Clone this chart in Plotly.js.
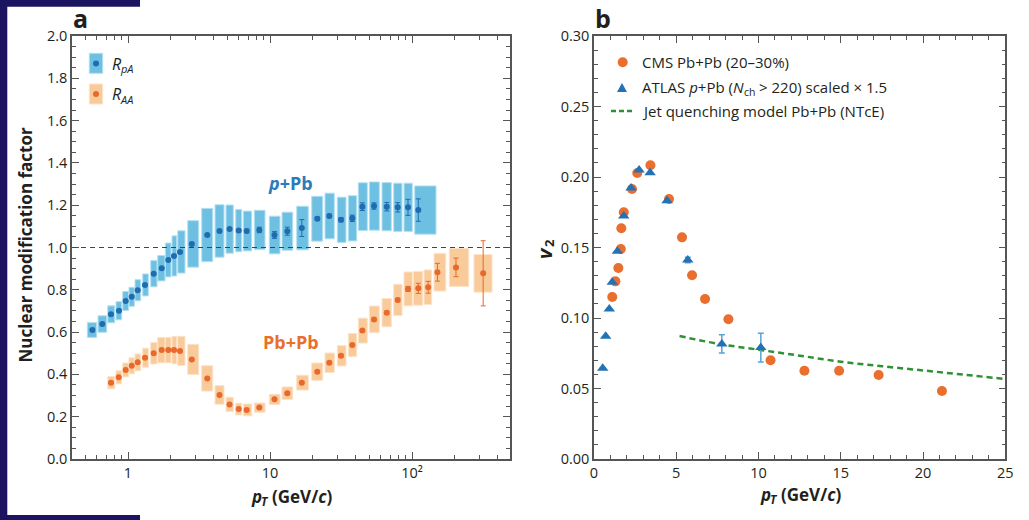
<!DOCTYPE html>
<html>
<head>
<meta charset="utf-8">
<script src="https://cdn.plot.ly/plotly-3.0.1.min.js"></script>
<style>
html,body{margin:0;padding:0;background:#fff;}
#chart{width:1029px;height:520px;}
</style>
</head>
<body>
<div id="chart"></div>
<script>
// ---------------- Data: panel a ----------------
const rpaPt = [0.561, 0.659, 0.759, 0.864, 0.963, 1.062, 1.170, 1.317, 1.517, 1.727, 1.922, 2.109, 2.323, 2.813, 3.618, 4.41, 5.19, 6.02, 6.85, 8.41, 10.76, 13.24, 16.75, 21.53, 26.16, 31.6, 38.0, 44.7, 54.0, 66.4, 79.3, 93.7, 110.7];
const rpaVal = [0.610, 0.638, 0.684, 0.701, 0.747, 0.767, 0.798, 0.823, 0.876, 0.902, 0.941, 0.960, 0.979, 1.017, 1.059, 1.078, 1.087, 1.080, 1.078, 1.083, 1.059, 1.077, 1.092, 1.136, 1.149, 1.131, 1.138, 1.193, 1.196, 1.193, 1.190, 1.190, 1.177];
const rpaStat = [0.004, 0.004, 0.004, 0.004, 0.004, 0.004, 0.004, 0.004, 0.004, 0.004, 0.004, 0.004, 0.004, 0.004, 0.004, 0.004, 0.005, 0.006, 0.008, 0.013, 0.016, 0.019, 0.04, 0.008, 0.008, 0.01, 0.015, 0.018, 0.015, 0.02, 0.022, 0.038, 0.053];
const rpaSys = [0.035, 0.039, 0.04, 0.043, 0.045, 0.045, 0.05, 0.052, 0.062, 0.06, 0.08, 0.095, 0.1, 0.11, 0.126, 0.124, 0.114, 0.1, 0.094, 0.093, 0.089, 0.09, 0.103, 0.106, 0.108, 0.107, 0.107, 0.113, 0.114, 0.114, 0.114, 0.114, 0.114];
const rpaBinLo = [0.517, 0.615, 0.720, 0.823, 0.918, 1.016, 1.120, 1.269, 1.445, 1.619, 1.831, 2.041, 2.239, 2.633, 3.304, 4.101, 4.898, 5.734, 6.486, 7.755, 9.886, 12.15, 15.42, 19.67, 24.39, 29.78, 35.60, 41.86, 50.04, 61.49, 74.31, 87.85, 104.5];
const rpaBinHi = [0.602, 0.708, 0.806, 0.903, 1.011, 1.108, 1.229, 1.390, 1.601, 1.822, 2.008, 2.203, 2.520, 3.147, 3.949, 4.743, 5.513, 6.320, 7.432, 9.222, 11.76, 14.45, 18.61, 23.50, 28.37, 34.29, 40.78, 48.44, 58.86, 71.48, 85.03, 100.5, 147.6];

const raaPt = [0.759, 0.860, 0.963, 1.062, 1.170, 1.317, 1.517, 1.727, 1.922, 2.109, 2.323, 2.813, 3.618, 4.41, 5.19, 6.02, 6.85, 8.41, 10.76, 13.24, 16.75, 21.53, 26.16, 31.6, 38.0, 44.7, 54.0, 66.4, 79.3, 93.7, 110.7, 130, 151, 204, 317];
const raaVal = [0.361, 0.386, 0.421, 0.441, 0.457, 0.479, 0.500, 0.515, 0.515, 0.515, 0.511, 0.471, 0.381, 0.303, 0.258, 0.236, 0.232, 0.243, 0.282, 0.311, 0.361, 0.413, 0.455, 0.488, 0.539, 0.607, 0.660, 0.692, 0.752, 0.804, 0.807, 0.812, 0.883, 0.906, 0.878];
const raaStat = [0.004, 0.004, 0.004, 0.004, 0.004, 0.004, 0.004, 0.004, 0.004, 0.004, 0.004, 0.004, 0.004, 0.004, 0.004, 0.004, 0.004, 0.004, 0.004, 0.004, 0.004, 0.004, 0.004, 0.004, 0.004, 0.005, 0.006, 0.007, 0.008, 0.012, 0.024, 0.028, 0.042, 0.044, 0.154];
const raaSys = [0.029, 0.031, 0.033, 0.038, 0.04, 0.045, 0.051, 0.06, 0.06, 0.065, 0.069, 0.071, 0.06, 0.044, 0.034, 0.028, 0.028, 0.022, 0.024, 0.03, 0.035, 0.041, 0.046, 0.048, 0.054, 0.059, 0.063, 0.067, 0.074, 0.08, 0.08, 0.082, 0.089, 0.09, 0.089];
const raaBinLo = [0.720, 0.823, 0.918, 1.016, 1.120, 1.269, 1.445, 1.619, 1.831, 2.041, 2.239, 2.633, 3.304, 4.101, 4.898, 5.734, 6.486, 7.755, 9.886, 12.15, 15.42, 19.67, 24.39, 29.78, 35.60, 41.86, 50.04, 61.49, 74.31, 87.85, 102.1, 121.5, 142.9, 183.1, 273.3];
const raaBinHi = [0.806, 0.903, 1.011, 1.108, 1.229, 1.390, 1.601, 1.822, 2.008, 2.203, 2.520, 3.147, 3.949, 4.743, 5.513, 6.320, 7.432, 9.222, 11.76, 14.45, 18.61, 23.50, 28.37, 34.29, 40.78, 48.44, 58.86, 71.48, 85.03, 100.5, 118.9, 137.6, 172.8, 250.8, 365.9];

const xTickVals = [1, 10, 100];
const xTickText = ['1', '10', '10²'];

// ---------------- Data: panel b ----------------
const cmsPt = [1.11, 1.30, 1.48, 1.63, 1.66, 1.81, 2.31, 2.63, 3.43, 4.56, 5.35, 5.96, 6.75, 8.17, 10.73, 12.79, 14.9, 17.3, 21.15];
const cmsV2 = [0.1149, 0.126, 0.1355, 0.1489, 0.1636, 0.175, 0.1915, 0.2028, 0.2083, 0.1844, 0.1572, 0.1303, 0.1135, 0.0991, 0.0700, 0.0626, 0.0626, 0.0596, 0.0482];
const atlasPt = [0.53, 0.71, 0.93, 1.11, 1.42, 1.81, 2.25, 2.74, 3.41, 4.44, 5.70, 7.77, 10.14];
const atlasV2 = [0.0643, 0.087, 0.1064, 0.1253, 0.1473, 0.1723, 0.1922, 0.205, 0.2031, 0.1832, 0.1411, 0.0816, 0.079];
const atlasErr = [0, 0, 0, 0, 0, 0, 0, 0, 0, 0, 0.002, 0.0065, 0.0102];
const modelPt = [5.2, 7.5, 10, 12.5, 15, 17.5, 20, 22.5, 25];
const modelV2 = [0.0872, 0.0818, 0.0775, 0.0733, 0.0690, 0.0658, 0.0628, 0.0598, 0.0567];

// ---------------- Helpers ----------------
const W = 1029, H = 520;
const px = x => x / W;
const py = y => 1 - y / H;
const TXT = '#231f20';
const AX = '#555555';
const FAM = 'Open Sans';
const FONT = 'Open Sans, Noto Sans, sans-serif';

const cvs = document.createElement('canvas').getContext('2d');
function tw(str, size, bold, italic) {
  cvs.font = (italic ? 'italic ' : '') + (bold ? 'bold ' : '') + size + 'px "' + FAM + '"';
  return cvs.measureText(str).width;
}

function boxes(lo, hi, val, sys) {
  const xs = [], ys = [];
  for (let i = 0; i < val.length; i++) {
    xs.push(lo[i], hi[i], hi[i], lo[i], lo[i], null);
    ys.push(val[i] - sys[i], val[i] - sys[i], val[i] + sys[i], val[i] + sys[i], val[i] - sys[i], null);
  }
  return {xs, ys};
}
const bB = boxes(rpaBinLo, rpaBinHi, rpaVal, rpaSys);
const oB = boxes(raaBinLo, raaBinHi, raaVal, raaSys);

const BLUE_BOX = '#6ec0e2', BLUE_EDGE = '#b4e0f2', BLUE_PT = '#1f6cb0';
const ORG_BOX = '#f9ca9a', ORG_EDGE = '#fde3c8', ORG_PT = '#e8692b';

const traces = [
  {type:'scatter', mode:'lines', x:bB.xs, y:bB.ys, fill:'toself', fillcolor:BLUE_BOX,
   line:{color:BLUE_EDGE, width:1}, hoverinfo:'skip', showlegend:false, xaxis:'x', yaxis:'y'},
  {type:'scatter', mode:'lines', x:oB.xs, y:oB.ys, fill:'toself', fillcolor:ORG_BOX,
   line:{color:ORG_EDGE, width:1}, hoverinfo:'skip', showlegend:false, xaxis:'x', yaxis:'y'},
  {type:'scatter', mode:'markers', x:rpaPt, y:rpaVal, marker:{color:BLUE_PT, size:6},
   error_y:{type:'data', array:rpaStat, color:BLUE_PT, thickness:1, width:2.5},
   showlegend:false, xaxis:'x', yaxis:'y'},
  {type:'scatter', mode:'markers', x:raaPt, y:raaVal, marker:{color:ORG_PT, size:6},
   error_y:{type:'data', array:raaStat, color:ORG_PT, thickness:1, width:2.5},
   showlegend:false, xaxis:'x', yaxis:'y'},
  {type:'scatter', mode:'lines', x:modelPt, y:modelV2, line:{color:'#2e9134', width:2.5, dash:'6px,4px', shape:'spline'},
   showlegend:false, xaxis:'x2', yaxis:'y2'},
  {type:'scatter', mode:'markers', x:cmsPt, y:cmsV2, marker:{color:'#ea6e2d', size:10},
   showlegend:false, xaxis:'x2', yaxis:'y2'},
  {type:'scatter', mode:'markers', x:atlasPt, y:atlasV2, marker:{color:'#2372b6', size:10, symbol:'triangle-up'},
   error_y:{type:'data', array:atlasErr, color:'#5aa3d6', thickness:1.5, width:3},
   showlegend:false, xaxis:'x2', yaxis:'y2'}
];

const minorLog = [0.5,0.6,0.7,0.8,0.9,2,3,4,5,6,7,8,9,20,30,40,50,60,70,80,90,200,300,400];

const axCommon = {
  showline:true, linecolor:AX, linewidth:1.5, mirror:'ticks',
  ticks:'inside', ticklen:7, tickwidth:1.3, tickcolor:AX,
  showgrid:false, zeroline:false,
  tickfont:{family:FONT, size:14.5, color:TXT}
};

function ann(text, x, y, size, opts) {
  return Object.assign({text:text, xref:'paper', yref:'paper', x:px(x), y:py(y),
    xanchor:'left', yanchor:'middle', showarrow:false, borderpad:0,
    font:{family:FONT, size:size, color:TXT}}, opts || {});
}

const annotations = [
  ann('<b>a</b>', 80, 18, 25, {xanchor:'center'}),
  ann('<b>b</b>', 603, 18, 25, {xanchor:'center'}),
  ann('<b>Nuclear modification factor</b>', 24.5, 245, 17, {xanchor:'center', textangle:-90}),
  ann('<b><i>p</i>+Pb</b>', 290.5, 183, 18, {xanchor:'center', font:{family:FONT, size:18, color:'#2b7bba'}}),
  ann('<b>Pb+Pb</b>', 290.5, 341.7, 18, {xanchor:'center', font:{family:FONT, size:18, color:'#e8702a'}}),
  ann('CMS Pb+Pb (20–30%)', 641, 62, 15),
  ann('Jet quenching model Pb+Pb (NTcE)', 641, 111, 15)
];

function ptTitle(x0, yc) {
  const wp = tw('p', 17, true, true);
  const wT = tw('T', 12, true, true);
  annotations.push(ann('<b><i>p</i></b>', x0, yc, 17));
  annotations.push(ann('<b><i>T</i></b>', x0 + wp + 0.3, yc + 5, 12));
  annotations.push(ann('<b>(GeV/<i>c</i>)</b>', x0 + wp + wT + 5, yc, 17));
}
ptTitle(250, 496);
ptTitle(758.5, 494);

annotations.push(ann('<b><i>v</i></b>', 544, 253, 20, {xanchor:'center', textangle:-90}));
annotations.push(ann('<b>2</b>', 549, 243, 13, {xanchor:'center', textangle:-90}));

function rLabel(sub, x0, yc) {
  const wR = tw('R', 16, false, true);
  annotations.push(ann('<i>R</i>', x0, yc, 16));
  annotations.push(ann('<i>' + sub + '</i>', x0 + wR - 1.5, yc + 5, 11));
}
rLabel('pA', 111, 63.5);
rLabel('AA', 111, 94);

(function () {
  const w1 = tw('ATLAS ', 15) + tw('p', 15, false, true) + tw('+Pb (', 15) + tw('N', 15, false, true);
  const wch = tw('ch', 10.5);
  const wsp = tw(' ', 15);
  annotations.push(ann('ATLAS <i>p</i>+Pb (<i>N</i>', 641, 87, 15));
  annotations.push(ann('ch', 641 + w1 + 0.3, 91.5, 10.5));
  annotations.push(ann('&gt; 220) scaled × 1.5', 641 + w1 + wch + wsp + 0.6, 87, 15));
})();

const layout = {
  width:W, height:H,
  margin:{l:0, r:0, t:0, b:0, pad:0},
  paper_bgcolor:'#ffffff', plot_bgcolor:'#ffffff',
  font:{family:FONT, color:TXT},
  hovermode:false,
  xaxis:Object.assign({}, axCommon, {
    domain:[px(72), px(510)], type:'log', range:[-0.3944, 2.690], anchor:'y',
    tickmode:'array', tickvals:xTickVals, ticktext:xTickText,
    minor:{tickmode:'array', tickvals:minorLog, ticks:'inside', ticklen:4, tickwidth:1.2, tickcolor:AX, showgrid:false}
  }),
  yaxis:Object.assign({}, axCommon, {
    domain:[py(459), py(36)], range:[0, 2], anchor:'x', dtick:0.2, tick0:0, tickformat:'.1f',
    minor:{dtick:0.05, ticks:'inside', ticklen:4, tickwidth:1.2, tickcolor:AX, showgrid:false}
  }),
  xaxis2:Object.assign({}, axCommon, {
    domain:[px(594), px(1005.3)], range:[0, 25], anchor:'y2', dtick:5, tick0:0,
    minor:{dtick:1, ticks:'inside', ticklen:4, tickwidth:1.2, tickcolor:AX, showgrid:false}
  }),
  yaxis2:Object.assign({}, axCommon, {
    domain:[py(459), py(36)], range:[0, 0.3], anchor:'x2', dtick:0.05, tick0:0, tickformat:'.2f',
    minor:{dtick:0.01, ticks:'inside', ticklen:4, tickwidth:1.2, tickcolor:AX, showgrid:false}
  }),
  shapes:[
    {type:'line', xref:'x domain', yref:'y', x0:0, x1:1, y0:1, y1:1, line:{color:'#444', width:1.2, dash:'5px,4px'}},
    {type:'rect', xref:'paper', yref:'paper', x0:px(89.3), x1:px(102.7), y0:py(73.3), y1:py(53.3), fillcolor:BLUE_BOX, line:{color:BLUE_EDGE, width:1}},
    {type:'rect', xref:'paper', yref:'paper', x0:px(89.3), x1:px(102.7), y0:py(104), y1:py(84), fillcolor:ORG_BOX, line:{color:ORG_EDGE, width:1}},
    {type:'circle', xref:'paper', yref:'paper', x0:px(93), x1:px(99), y0:py(66.5), y1:py(60.5), fillcolor:BLUE_PT, line:{width:0}},
    {type:'circle', xref:'paper', yref:'paper', x0:px(93), x1:px(99), y0:py(97), y1:py(91), fillcolor:ORG_PT, line:{width:0}},
    {type:'circle', xref:'paper', yref:'paper', x0:px(617.7), x1:px(627.7), y0:py(67.3), y1:py(57.3), fillcolor:'#ea6e2d', line:{width:0}},
    {type:'path', xref:'paper', yref:'paper',
     path:'M '+px(617)+','+py(92)+' L '+px(627)+','+py(92)+' L '+px(622)+','+py(83)+' Z', fillcolor:'#2372b6', line:{width:0}},
    {type:'line', xref:'paper', yref:'paper', x0:px(611), x1:px(635), y0:py(111), y1:py(111), line:{color:'#2e9134', width:2.5, dash:'5px,3px'}},
    {type:'rect', xref:'paper', yref:'paper', x0:0, x1:px(7.3), y0:0, y1:1, fillcolor:'#1c1461', line:{width:0}},
    {type:'rect', xref:'paper', yref:'paper', x0:0, x1:px(140), y0:py(6.7), y1:1, fillcolor:'#1c1461', line:{width:0}},
    {type:'rect', xref:'paper', yref:'paper', x0:0, x1:px(140), y0:0, y1:py(515), fillcolor:'#1c1461', line:{width:0}}
  ],
  annotations:annotations
};

Plotly.newPlot('chart', traces, layout, {displayModeBar:false, responsive:false});
</script>
</body>
</html>
